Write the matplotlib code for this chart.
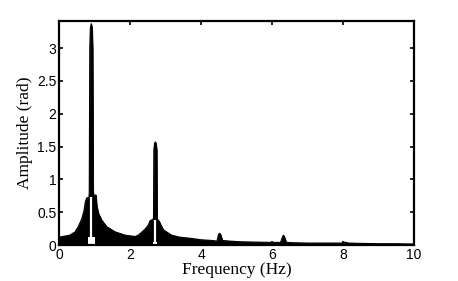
import numpy as np
import matplotlib
matplotlib.use('Agg')
import matplotlib.pyplot as plt

# spectrum envelope (Hz, rad)
freq = [0.0, 0.1, 0.3, 0.45, 0.54, 0.64, 0.70, 0.74, 0.78, 0.84, 0.85, 0.865, 0.88, 0.905,
        0.93, 0.945, 0.96, 0.97, 1.04, 1.06, 1.11, 1.2, 1.34, 1.58, 1.86, 2.0, 2.14, 2.23,
        2.42, 2.52, 2.56, 2.60, 2.66, 2.67, 2.69, 2.71, 2.73, 2.75, 2.76, 2.82, 2.87, 2.94,
        3.17, 3.4, 3.74, 4.0, 4.3, 4.45, 4.49, 4.52, 4.55, 4.6, 4.8, 5.1, 5.5, 6.0, 6.24,
        6.29, 6.32, 6.35, 6.40, 6.6, 7.0, 7.5, 7.95, 8.05, 8.15, 8.5, 9.0, 9.5, 10.0]
amp = [0.12, 0.13, 0.15, 0.20, 0.28, 0.40, 0.52, 0.66, 0.72, 0.72, 0.80, 3.0, 3.3, 3.37,
       3.3, 3.0, 0.82, 0.76, 0.76, 0.60, 0.48, 0.38, 0.28, 0.20, 0.15, 0.14, 0.13, 0.15,
       0.24, 0.31, 0.37, 0.38, 0.40, 1.45, 1.55, 1.57, 1.55, 1.45, 0.40, 0.36, 0.30, 0.23,
       0.15, 0.12, 0.10, 0.08, 0.07, 0.06, 0.16, 0.18, 0.16, 0.07, 0.06, 0.05, 0.045, 0.04,
       0.04, 0.12, 0.15, 0.12, 0.04, 0.035, 0.03, 0.03, 0.03, 0.045, 0.03, 0.025, 0.02,
       0.02, 0.015]

# white gaps inside the two main resonance peaks
notch_freq = [0.905, 2.71]
notch_top = [0.73, 0.38]
base_gap_freq = [0.91, 2.71]
base_gap_height = [0.125, 0.04]
base_gap_width = [0.2, 0.1]

plt.rcParams['font.family'] = 'Liberation Sans'
fig = plt.figure(figsize=(4.58, 2.81), dpi=100)
ax = fig.add_axes([0.129, 0.128, 0.775, 0.797])

ax.fill_between(freq, 0, amp, color='k', lw=0.6)
ax.plot(freq, amp, color='k', lw=0.8)
ax.vlines(notch_freq, 0, notch_top, color='w', lw=1.6)
ax.bar(base_gap_freq, base_gap_height, width=base_gap_width, color='w', lw=0)

ax.set_xlim(0, 10)
ax.set_ylim(0, 3.41)
ax.set_xticks(np.arange(0, 11, 2))
ax.set_yticks([0, 0.5, 1, 1.5, 2, 2.5, 3])
ax.set_yticklabels(['0', '0.5', '1', '1.5', '2', '2.5', '3'])
ax.tick_params(direction='in', top=True, right=True, length=3, width=1.2,
               labelsize=10, pad=2)
for s in ax.spines.values():
    s.set_linewidth(1.6)

ax.set_xlabel('Frequency (Hz)', fontfamily='Liberation Serif', fontsize=12.5, labelpad=0)
ax.set_ylabel('Amplitude (rad)', fontfamily='Liberation Serif', fontsize=12.5, labelpad=3)

fig.savefig('out.png', dpi=100)
